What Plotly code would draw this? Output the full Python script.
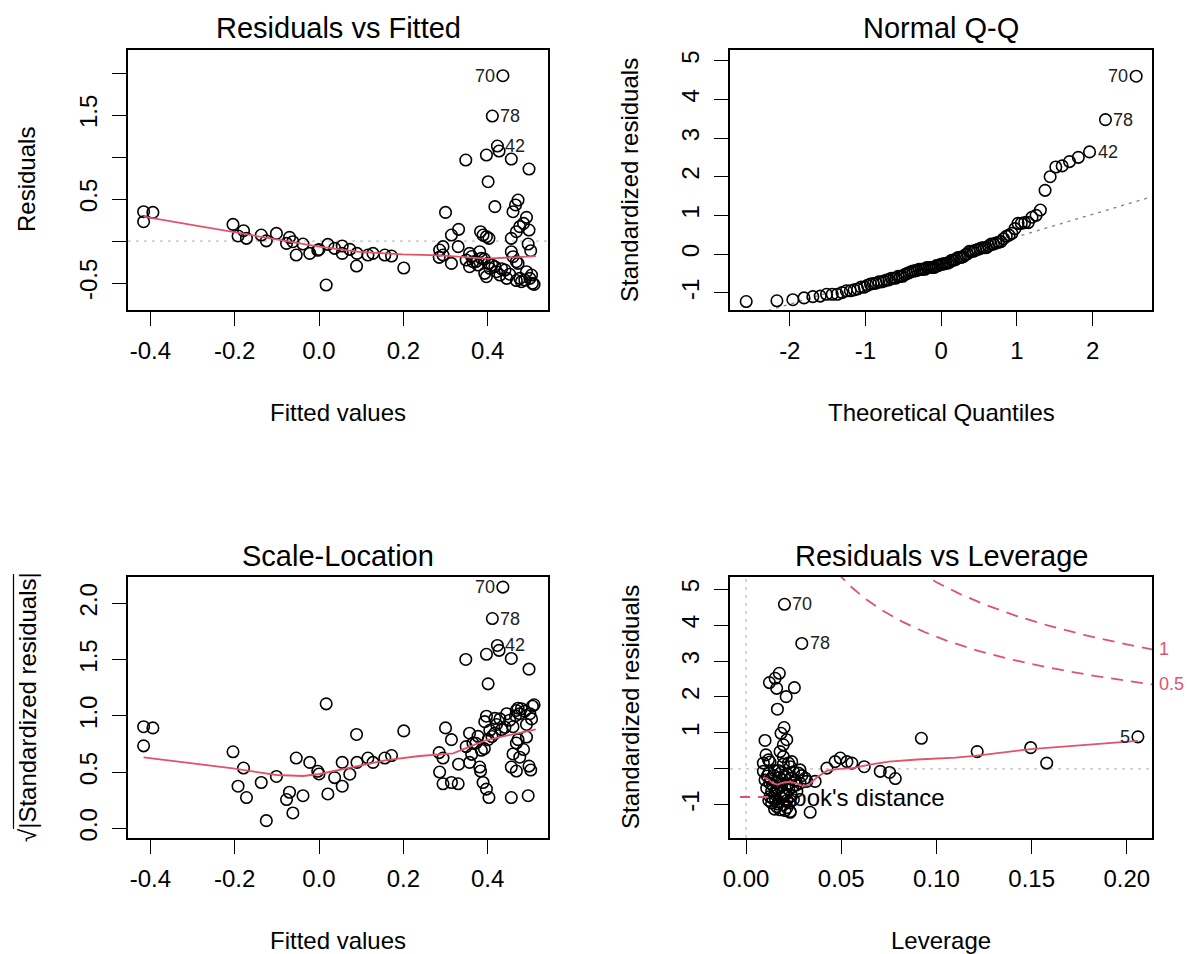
import numpy as np
import plotly.graph_objects as go
from statistics import NormalDist

W, H = 1187, 954

# ---------------- data ----------------
# Residuals vs Fitted: first three are observations 70, 78, 42
fitted = [
    0.436, 0.411, 0.423, 0.427, 0.348, 0.397, 0.456, 0.498, 0.401, 0.300,
    0.417, 0.472, 0.466, 0.460, 0.492, 0.485, 0.476, 0.468, 0.456, 0.498,
    0.331, 0.314, 0.383, 0.389, 0.397, 0.403, 0.496, 0.502, 0.294, 0.286,
    0.294, 0.285, 0.330, 0.314, 0.357, 0.349, 0.357, 0.365, 0.381, 0.385,
    0.377, 0.401, 0.405, 0.417, 0.421, 0.429, 0.441, 0.445, 0.456, 0.460,
    0.468, 0.472, 0.476, 0.488, 0.500, 0.506, 0.510, 0.480, 0.492, 0.504,
    0.393, 0.397, 0.362, 0.372, 0.392, 0.410, 0.433, 0.452, 0.468,
    -0.416, -0.394, -0.416,
    -0.204, -0.179, -0.192, -0.172, -0.137, -0.125, -0.101, -0.070, -0.077, -0.062,
    -0.054, -0.038, -0.022, 0.000, -0.003, 0.021, 0.017, 0.037, 0.055, 0.055,
    0.073, 0.090, 0.089, 0.116, 0.128, 0.156, 0.172, 0.201,
]
residuals = [
    1.968, 1.488, 1.131, 1.071, 0.964, 1.024, 0.976, 0.857, 0.706, 0.341,
    0.409, 0.488, 0.429, 0.349, 0.282, 0.210, 0.171, 0.111, 0.032, 0.131,
    0.139, 0.071, 0.111, 0.071, 0.052, 0.032, -0.036, -0.115, -0.067, -0.107,
    -0.167, -0.194, -0.067, -0.266, -0.147, -0.226, -0.306, -0.246, -0.127, -0.206,
    -0.286, -0.266, -0.325, -0.306, -0.365, -0.405, -0.345, -0.444, -0.127, -0.187,
    -0.246, -0.266, -0.444, -0.464, -0.444, -0.504, -0.516, -0.484, -0.365, -0.405,
    -0.385, -0.425, -0.185, -0.245, -0.215, -0.285, -0.330, -0.395, -0.470,
    0.349, 0.341, 0.230,
    0.198, 0.123, 0.060, 0.032, 0.071, 0.002, 0.091, 0.044, -0.028, -0.008,
    -0.167, -0.036, -0.147, -0.100, -0.110, -0.040, -0.524, -0.087, -0.060, -0.147,
    -0.099, -0.147, -0.298, -0.167, -0.147, -0.167, -0.179, -0.321,
]
id_labels = ["70", "78", "42"]
residual_scale = 0.428  # residual standard error

lowess_rf_x = [-0.416, -0.204, -0.101, 0.000, 0.096, 0.199, 0.286, 0.357, 0.397, 0.460, 0.514]
lowess_rf_y = [0.290, 0.111, 0.020, -0.067, -0.130, -0.159, -0.171, -0.200, -0.210, -0.194, -0.179]

lowess_sl_x = [-0.416, -0.204, -0.101, -0.038, 0.002, 0.081, 0.160, 0.239, 0.318, 0.357, 0.397, 0.514]
lowess_sl_y = [0.631, 0.533, 0.474, 0.465, 0.483, 0.548, 0.607, 0.643, 0.667, 0.726, 0.785, 0.880]

qqline_intercept = -0.13
qqline_slope = 0.58

# Residuals vs Leverage: first three are observations 70, 78, 5
leverage = [
    0.0202, 0.0293, 0.2058, 0.0175, 0.0153, 0.0123, 0.0161, 0.0254, 0.0211, 0.0165,
    0.0200, 0.0184, 0.0214, 0.0100, 0.0196, 0.0179, 0.0105, 0.0118, 0.0091, 0.0196,
    0.0223, 0.0240, 0.0284, 0.0311, 0.0319, 0.0363, 0.0425, 0.0468, 0.0495, 0.0530,
    0.0556, 0.0621, 0.0705, 0.0754, 0.0784, 0.0921, 0.1214, 0.1495, 0.1579, 0.0337,
    0.0232,
    0.0091, 0.0120, 0.0150, 0.0185, 0.0215, 0.0250, 0.0275, 0.0293, 0.0232, 0.0196,
    0.0126, 0.0100, 0.0130, 0.0160, 0.0190, 0.0220, 0.0255, 0.0284, 0.0140, 0.0175,
    0.0109, 0.0135, 0.0165, 0.0195, 0.0225, 0.0267, 0.0150, 0.0245, 0.0180, 0.0126,
    0.0155, 0.0185, 0.0215, 0.0249, 0.0170, 0.0140, 0.0200, 0.0135, 0.0161, 0.0179,
    0.0232, 0.0195, 0.0215, 0.0150, 0.0205, 0.0112, 0.0145, 0.0170, 0.0205, 0.0238,
    0.0262, 0.0125, 0.0158, 0.0188, 0.0212, 0.0228, 0.0168, 0.0120, 0.0240,
]
std_resid_lev = [
    4.58, 3.49, 0.89, 2.66, 2.52, 2.40, 2.24, 2.26, 2.01, 1.66,
    1.15, 0.99, 0.81, 0.79, 0.67, 0.48, 0.39, 0.25, 0.16, 0.34,
    0.16, 0.20, -0.03, -0.26, -0.35, -0.35, 0.02, 0.20, 0.30, 0.20,
    0.16, 0.06, -0.07, -0.10, -0.27, 0.85, 0.48, 0.59, 0.16, -1.21,
    -1.21,
    -0.07, -0.12, -0.05, -0.10, -0.15, -0.08, -0.12, -0.19, 0.06, 0.13,
    0.19, -0.31, -0.28, -0.38, -0.30, -0.42, -0.33, -0.40, -0.45, -0.25,
    -0.54, -0.62, -0.55, -0.66, -0.58, -0.63, -0.70, -0.50, -0.52, -0.77,
    -0.85, -0.80, -0.88, -0.86, -0.92, -0.82, -0.75, -0.95, -1.05, -1.14,
    -1.19, -1.00, -1.08, -1.12, -1.16, -0.20, -0.18, -0.05, -0.22, -0.27,
    -0.45, -0.40, -0.60, -0.45, -0.70, -0.95, -0.98, -0.88, -0.75,
]
lev_id_labels = ["70", "78", "5"]

lowess_lev_x = [0.0091, 0.0118, 0.0140, 0.0165, 0.0200, 0.0230, 0.0260, 0.0300, 0.0330,
                0.0370, 0.0425, 0.0490, 0.0560, 0.0650, 0.0750, 0.0900, 0.1100, 0.1214,
                0.1495, 0.1750, 0.2058]
lowess_lev_y = [-0.23, -0.30, -0.40, -0.44, -0.38, -0.36, -0.40, -0.48, -0.45,
                -0.25, -0.05, 0.00, 0.02, 0.12, 0.20, 0.26, 0.31, 0.37,
                0.55, 0.65, 0.78]

n_params = 3
cook_levels = [0.5, 1]

# ---------------- derived quantities ----------------
std_resid = [r / residual_scale for r in residuals]
sqrt_abs_std = [abs(s) ** 0.5 for s in std_resid]
n = len(std_resid)
order = sorted(range(n), key=lambda i: std_resid[i])
qq_y = [std_resid[i] for i in order]
qq_x = [NormalDist().inv_cdf((k + 0.5) / n) for k in range(n)]
qq_pos = {i: order.index(i) for i in range(n)}

# ---------------- style ----------------
FONT = "Liberation Sans, Arial, Helvetica, sans-serif"
RED = "#DF536B"
TICK_FS = 24
TITLE_FS = 29
LAB_FS = 24
ID_FS = 18

boxes = {
    1: ((128, 548), (50, 310)),
    2: ((730, 1152), (50, 310)),
    3: ((128, 548), (577, 838)),
    4: ((730, 1152), (577, 838)),
}
ranges = {
    1: ([-0.453, 0.543], [-0.821, 2.274]),
    2: ([-2.79, 2.785], [-1.443, 5.276]),
    3: ([-0.453, 0.543], [-0.086, 2.234]),
    4: ([-0.0084, 0.2132], [-1.925, 5.34]),
}
xticks = {
    1: ([-0.4, -0.2, 0.0, 0.2, 0.4], ["-0.4", "-0.2", "0.0", "0.2", "0.4"]),
    2: ([-2, -1, 0, 1, 2], ["-2", "-1", "0", "1", "2"]),
    3: ([-0.4, -0.2, 0.0, 0.2, 0.4], ["-0.4", "-0.2", "0.0", "0.2", "0.4"]),
    4: ([0, 0.05, 0.1, 0.15, 0.2], ["0.00", "0.05", "0.10", "0.15", "0.20"]),
}
yticks = {
    1: ([-0.5, 0, 0.5, 1, 1.5, 2], ["-0.5", "", "0.5", "", "1.5", ""]),
    2: ([-1, 0, 1, 2, 3, 4, 5], ["-1", "0", "1", "2", "3", "4", "5"]),
    3: ([0, 0.5, 1, 1.5, 2], ["0.0", "0.5", "1.0", "1.5", "2.0"]),
    4: ([-1, 0, 1, 2, 3, 4, 5], ["-1", "", "1", "2", "3", "4", "5"]),
}

fig = go.Figure()


def ax(k):
    s = "" if k == 1 else str(k)
    return "x" + s, "y" + s


def add_points(k, x, y):
    xa, ya = ax(k)
    fig.add_trace(go.Scatter(
        x=x, y=y, mode="markers", xaxis=xa, yaxis=ya, showlegend=False,
        marker=dict(symbol="circle-open", size=11.5, color="black",
                    line=dict(width=1.6, color="black")),
        hoverinfo="skip"))


def add_line(k, x, y, color, width, dash="solid"):
    xa, ya = ax(k)
    fig.add_trace(go.Scatter(
        x=x, y=y, mode="lines", xaxis=xa, yaxis=ya, showlegend=False,
        line=dict(color=color, width=width, dash=dash), hoverinfo="skip"))


def add_id(k, x, y, text, side):
    xa, ya = ax(k)
    fig.add_annotation(
        x=x, y=y, xref=xa, yref=ya, text=text, showarrow=False,
        xanchor="right" if side == "left" else "left", yanchor="middle",
        xshift=-6 if side == "left" else 6,
        font=dict(family=FONT, size=ID_FS, color="#222"))


DOT = "3px,5px"

# Panel 1: Residuals vs Fitted
add_line(1, ranges[1][0], [0, 0], "#BEBEBE", 1.3, DOT)
add_points(1, fitted, residuals)
add_line(1, lowess_rf_x, lowess_rf_y, RED, 1.8)
for i, (lab, side) in enumerate(zip(id_labels, ["left", "right", "right"])):
    add_id(1, fitted[i], residuals[i], lab, side)

# Panel 2: Normal Q-Q
qx = np.array(ranges[2][0])
add_line(2, qx, qqline_intercept + qqline_slope * qx, "#7F7F7F", 1.3, DOT)
add_points(2, qq_x, qq_y)
for i, (lab, side) in enumerate(zip(id_labels, ["left", "right", "right"])):
    p = qq_pos[i]
    add_id(2, qq_x[p], qq_y[p], lab, side)

# Panel 3: Scale-Location
add_points(3, fitted, sqrt_abs_std)
add_line(3, lowess_sl_x, lowess_sl_y, RED, 1.8)
for i, (lab, side) in enumerate(zip(id_labels, ["left", "right", "right"])):
    add_id(3, fitted[i], sqrt_abs_std[i], lab, side)

# Panel 4: Residuals vs Leverage
add_line(4, ranges[4][0], [0, 0], "#BEBEBE", 1.3, DOT)
add_line(4, [0, 0], ranges[4][1], "#BEBEBE", 1.3, DOT)
add_points(4, leverage, std_resid_lev)
add_line(4, lowess_lev_x, lowess_lev_y, RED, 1.8)
hmax = ranges[4][0][1]
hh = np.linspace(0.003, hmax, 300)
for lvl in cook_levels:
    cl = np.sqrt(lvl * n_params * (1 - hh) / hh)
    add_line(4, hh, cl, RED, 1.8, "12px,8px")
    add_line(4, hh, -cl, RED, 1.8, "12px,8px")
    fig.add_annotation(
        x=hmax, y=float(np.sqrt(lvl * n_params * (1 - hmax) / hmax)), xref="x4", yref="y4",
        text=str(lvl), showarrow=False, xanchor="left", yanchor="middle", xshift=5,
        font=dict(family=FONT, size=ID_FS, color=RED))
for i, (lab, side) in enumerate(zip(lev_id_labels, ["right", "right", "left"])):
    add_id(4, leverage[i], std_resid_lev[i], lab, side)

# Cook's distance legend (bottom-left of panel 4)
fig.add_shape(type="line", xref="paper", yref="paper",
              x0=740 / W, x1=768 / W, y0=1 - 797 / H, y1=1 - 797 / H,
              line=dict(color=RED, width=1.8, dash="10px,8px"))
fig.add_annotation(x=774 / W, y=1 - 797 / H, xref="paper", yref="paper",
                   text="Cook's distance", showarrow=False, xanchor="left", yanchor="middle",
                   font=dict(family=FONT, size=LAB_FS, color="black"))

# axes
layout = {}
for k in range(1, 5):
    (xl, xr), (yt, yb) = boxes[k]
    s = "" if k == 1 else str(k)
    common = dict(showgrid=False, zeroline=False, showline=True, mirror=True,
                  linecolor="black", linewidth=1.5, ticks="outside", ticklen=14,
                  tickwidth=1.3, tickcolor="black", automargin=False,
                  tickfont=dict(family=FONT, size=TICK_FS, color="black"))
    layout["xaxis" + s] = dict(domain=[xl / W, xr / W], range=ranges[k][0],
                               anchor="y" + s, tickmode="array",
                               tickvals=xticks[k][0], ticktext=xticks[k][1],
                               ticklabelstandoff=4, **common)
    layout["yaxis" + s] = dict(domain=[1 - yb / H, 1 - yt / H], range=ranges[k][1],
                               anchor="x" + s, tickmode="array",
                               tickvals=yticks[k][0], ticktext=yticks[k][1],
                               tickangle=-90, ticklabelstandoff=6, **common)

fig.update_layout(
    width=W, height=H, margin=dict(l=0, r=0, t=0, b=0),
    plot_bgcolor="white", paper_bgcolor="white", showlegend=False,
    font=dict(family=FONT, color="black"),
    **layout)

# titles and axis labels
titles = [("Residuals vs Fitted", 338, 28), ("Normal Q-Q", 941, 28),
          ("Scale-Location", 338, 556), ("Residuals vs Leverage", 941, 556)]
for t, x, y in titles:
    fig.add_annotation(x=x / W, y=1 - y / H, xref="paper", yref="paper", text=t,
                       showarrow=False, xanchor="center", yanchor="middle",
                       font=dict(family=FONT, size=TITLE_FS, color="black"))

xlabels = [("Fitted values", 338, 412), ("Theoretical Quantiles", 941, 412),
           ("Fitted values", 338, 940), ("Leverage", 941, 940)]
for t, x, y in xlabels:
    fig.add_annotation(x=x / W, y=1 - y / H, xref="paper", yref="paper", text=t,
                       showarrow=False, xanchor="center", yanchor="middle",
                       font=dict(family=FONT, size=LAB_FS, color="black"))

ylabels = [("Residuals", 27, 180), ("Standardized residuals", 630, 180),
           ("√|Standardized residuals|", 27, 707), ("Standardized residuals", 630, 707)]
for t, x, y in ylabels:
    fig.add_annotation(x=x / W, y=1 - y / H, xref="paper", yref="paper", text=t,
                       showarrow=False, xanchor="center", yanchor="middle", textangle=-90,
                       font=dict(family=FONT, size=LAB_FS, color="black"))

# overbar of the square-root sign on the Scale-Location axis label
fig.add_shape(type="line", xref="paper", yref="paper",
              x0=13.5 / W, x1=13.5 / W, y0=1 - 829 / H, y1=1 - 574 / H,
              line=dict(color="black", width=1.2))

fig.write_html("out.html")
